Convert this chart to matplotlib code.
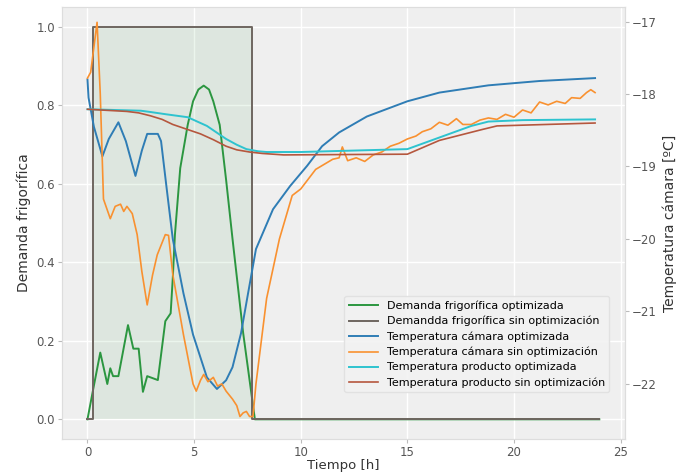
import numpy as np
import matplotlib
matplotlib.use('Agg')
import matplotlib.pyplot as plt

# demanda frigorifica (eje izquierdo)
t_dem_opt = [0, 0.28, 0.6, 0.93, 1.07, 1.2, 1.45, 1.9, 2.15, 2.4, 2.6, 2.8, 3.3, 3.65, 3.9, 4.0,
             4.1, 4.35, 4.7, 4.95, 5.2, 5.45, 5.7, 5.9, 6.2, 6.5, 6.8, 7.3, 7.85, 24]
dem_opt = [0, 0.08, 0.17, 0.09, 0.13, 0.11, 0.11, 0.24, 0.18, 0.18, 0.07, 0.11, 0.10, 0.25, 0.27, 0.36,
           0.47, 0.64, 0.75, 0.81, 0.84, 0.85, 0.84, 0.81, 0.75, 0.61, 0.46, 0.22, 0.0, 0.0]

t_dem_sin = [0, 0.28, 0.28, 7.7, 7.7, 24]
dem_sin = [0, 0, 1, 1, 0, 0]

# temperaturas (eje derecho)
t_cam_opt = [0, 0.05, 0.3, 0.7, 1.0, 1.45, 1.8, 2.25, 2.55, 2.8, 3.3, 3.45, 3.7, 4.0, 4.5, 4.95,
             5.6, 6.07, 6.5, 6.8, 7.2, 7.5, 7.9, 8.7, 9.5, 10.3, 11.0, 11.8, 13.1, 15, 16.5,
             18.8, 21.2, 23.8]
cam_opt = [-17.80, -18.05, -18.45, -18.86, -18.62, -18.39, -18.65, -19.13, -18.78, -18.55, -18.55,
           -18.65, -19.27, -20.0, -20.75, -21.32, -21.91, -22.07, -21.95, -21.77, -21.3, -20.8,
           -20.14, -19.59, -19.27, -18.99, -18.72, -18.53, -18.31, -18.1, -17.98, -17.88,
           -17.82, -17.78]

t_cam_sin = [0, 0.15, 0.45, 0.6, 0.75, 1.07, 1.3, 1.55, 1.7, 1.85, 2.1, 2.33, 2.55, 2.8, 3.05,
             3.27, 3.65, 3.8, 4.0, 4.5, 4.95, 5.1, 5.3, 5.45, 5.65, 5.9, 6.1, 6.3, 6.5, 6.8,
             7.0, 7.15, 7.3, 7.45, 7.6, 7.76, 7.9, 8.4, 9.0, 9.6, 10.0, 10.7, 11.5, 11.8,
             11.95, 12.2, 12.6, 13.0, 13.4, 13.8, 14.2, 14.6, 15.0, 15.4, 15.7, 16.1, 16.5,
             16.9, 17.3, 17.6, 18.0, 18.4, 18.8, 19.2, 19.6, 20.0, 20.4, 20.8, 21.2, 21.6,
             22.0, 22.4, 22.7, 23.1, 23.4, 23.6, 23.8]
cam_sin = [-17.78, -17.70, -17.01, -18.0, -19.45, -19.72, -19.55, -19.52, -19.62, -19.55, -19.65,
           -19.94, -20.45, -20.91, -20.5, -20.22, -19.94, -19.95, -20.49, -21.32, -22.0, -22.1,
           -21.95, -21.87, -21.97, -21.91, -22.03, -22.0, -22.1, -22.21, -22.3, -22.45, -22.4,
           -22.38, -22.45, -22.45, -22.0, -20.82, -20.0, -19.4, -19.31, -19.04, -18.9, -18.88,
           -18.73, -18.92, -18.88, -18.93, -18.84, -18.8, -18.72, -18.68, -18.62, -18.58,
           -18.52, -18.48, -18.39, -18.43, -18.34, -18.42, -18.42, -18.36, -18.33, -18.35,
           -18.28, -18.32, -18.22, -18.26, -18.11, -18.15, -18.1, -18.13, -18.05, -18.06,
           -17.98, -17.94, -17.98]

t_prod_opt = [0, 2.5, 3.0, 3.7, 4.7, 5.0, 5.6, 6.0, 6.5, 7.0, 7.45, 8.0, 8.4, 10, 15, 16.5, 18,
              18.8, 20.4, 23.8]
prod_opt = [-18.21, -18.23, -18.25, -18.28, -18.32, -18.36, -18.44, -18.52, -18.62, -18.70,
            -18.76, -18.79, -18.80, -18.80, -18.76, -18.60, -18.44, -18.38, -18.36, -18.35]

t_prod_sin = [0, 1.85, 2.4, 2.95, 3.5, 4.0, 4.6, 5.3, 5.9, 6.5, 7.0, 7.6, 8.2, 9.2, 15, 16.5,
              18.5, 19.2, 23.8]
prod_sin = [-18.21, -18.24, -18.26, -18.30, -18.35, -18.42, -18.48, -18.55, -18.63, -18.72,
            -18.77, -18.80, -18.82, -18.84, -18.83, -18.64, -18.49, -18.44, -18.40]

labels = ['Demanda frigorífica optimizada', 'Demandda frigorífica sin optimización',
          'Temperatura cámara optimizada', 'Temperatura cámara sin optimización',
          'Temperatura producto optimizada', 'Temperatura producto sin optimización']
colors = ['#2b9640', '#6e6660', '#2f7db5', '#f99130', '#2ec3cf', '#b5573e']

bg = '#efefef'
fig = plt.figure(figsize=(6.8, 4.72), dpi=100)
ax1 = fig.add_axes([0.091, 0.07, 0.828, 0.915])
ax1.set_facecolor(bg)
ax1.grid(True, color='white', linewidth=1.0)
ax1.set_axisbelow(True)

ax1.fill_between(t_dem_sin, dem_sin, color='#2b9640', alpha=0.09, linewidth=0)
l1, = ax1.plot(t_dem_opt, dem_opt, color=colors[0], lw=1.4)
l2, = ax1.plot(t_dem_sin, dem_sin, color=colors[1], lw=1.4)
ax1.set_xlim(-1.2, 25.2)
ax1.set_ylim(-0.05, 1.05)
ax1.set_xticks(range(0, 26, 5))
ax1.set_yticks(np.arange(0, 1.01, 0.2))
ax1.set_xlabel('Tiempo [h]', fontsize=9.5, labelpad=0, color='#333333')
ax1.set_ylabel('Demanda frigorífica', fontsize=10, color='#333333')

ax2 = ax1.twinx()
l3, = ax2.plot(t_cam_opt, cam_opt, color=colors[2], lw=1.4)
l4, = ax2.plot(t_cam_sin, cam_sin, color=colors[3], lw=1.2)
l5, = ax2.plot(t_prod_opt, prod_opt, color=colors[4], lw=1.4)
l6, = ax2.plot(t_prod_sin, prod_sin, color=colors[5], lw=1.2)
ax2.set_ylim(-22.76, -16.8)
ax2.set_yticks(range(-22, -16))
ax2.set_ylabel('Temperatura cámara [ºC]', fontsize=10, color='#333333')

for ax in (ax1, ax2):
    for s in ax.spines.values():
        s.set_color('#dddddd')
    ax.tick_params(labelsize=8.5, colors='#555555', length=3, color='#bbbbbb', pad=2)

ax2.legend([l1, l2, l3, l4, l5, l6], labels, loc='lower right',
           bbox_to_anchor=(0.982, 0.095), fontsize=8, facecolor='#f2f2f2',
           edgecolor='#e0e0e0', framealpha=0.9, handlelength=2.6, labelspacing=0.45)

fig.savefig('out.png', dpi=100)
